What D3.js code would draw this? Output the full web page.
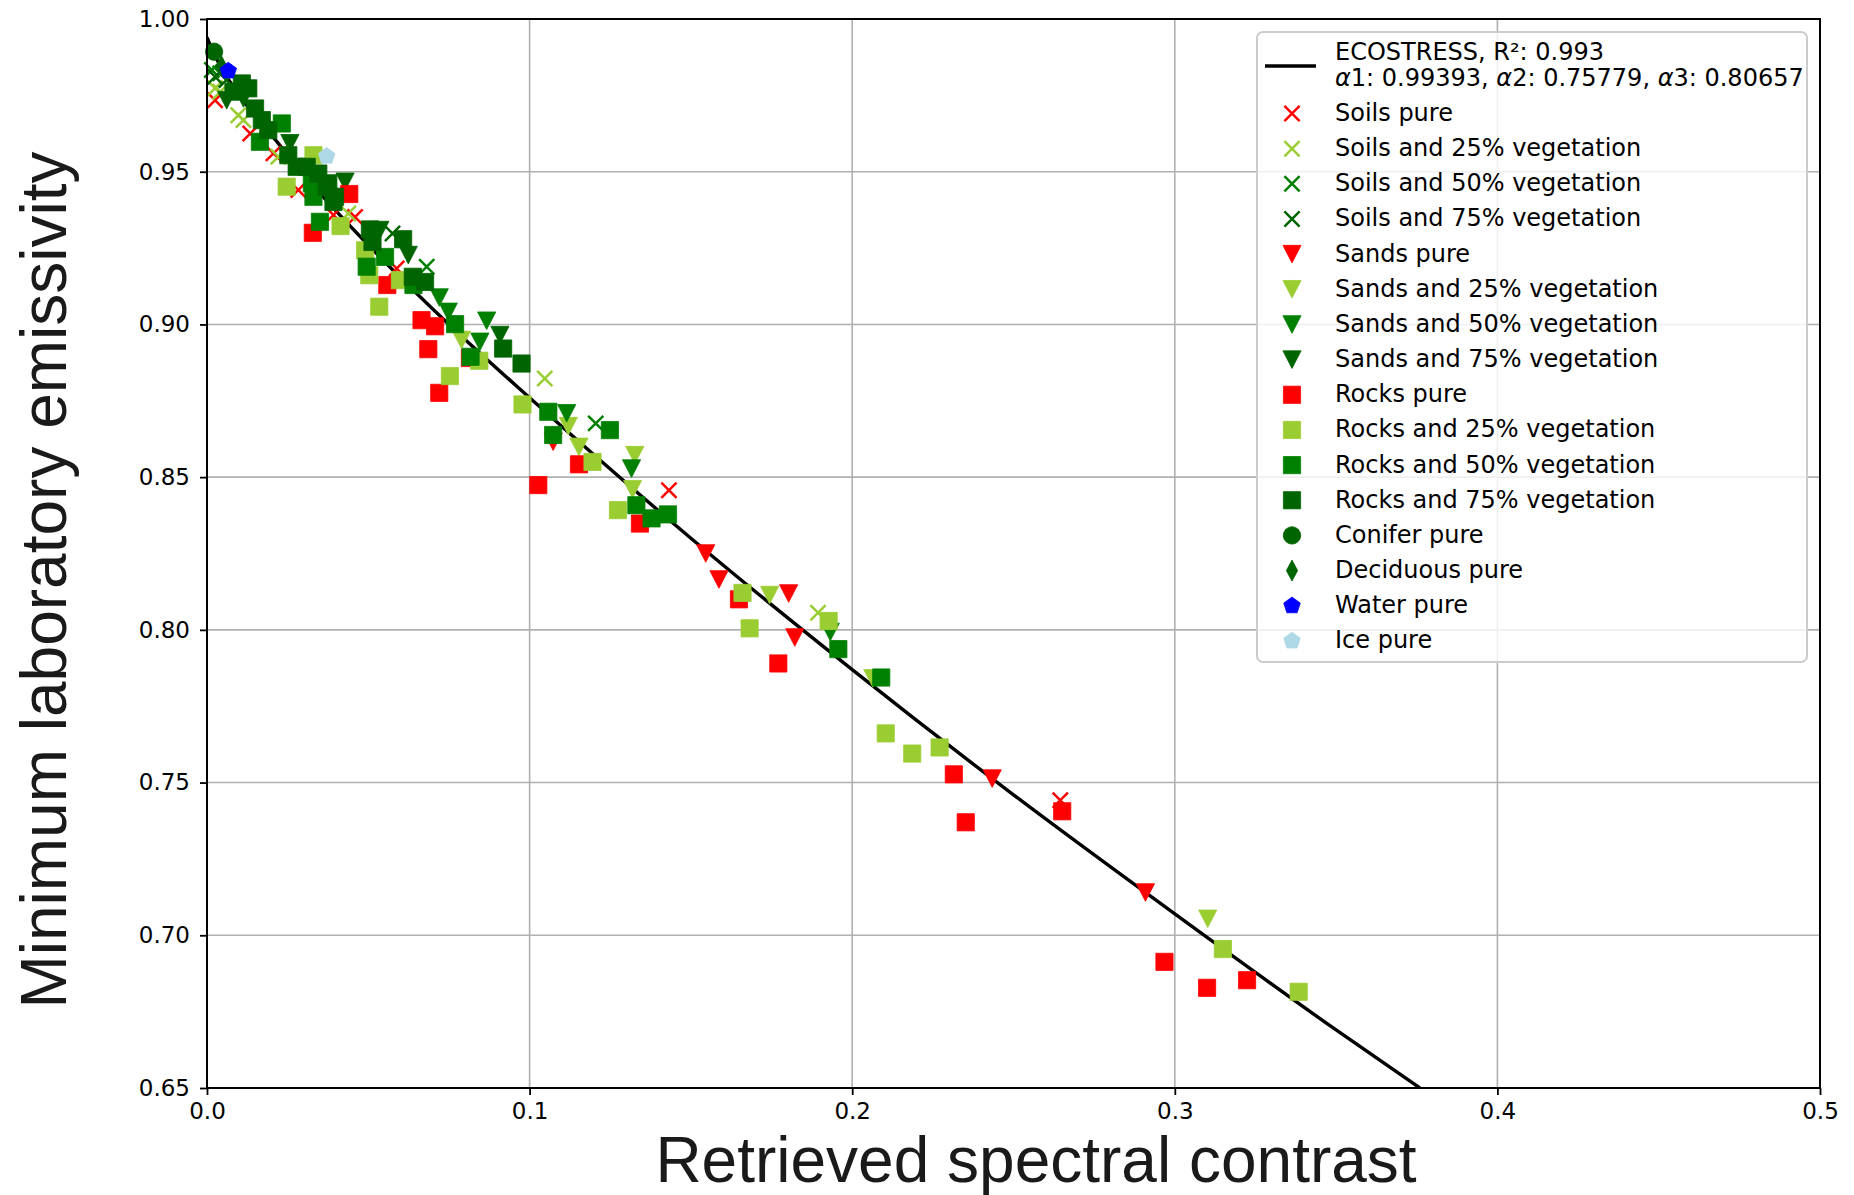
<!DOCTYPE html>
<html><head><meta charset="utf-8">
<script src="https://cdn.jsdelivr.net/npm/d3@7"></script>
<style>body{margin:0;background:#fff}</style>
</head><body>
<svg id="chart" width="1854" height="1195" xmlns="http://www.w3.org/2000/svg"></svg>
<script>
// ---------- DATA ----------
const xTicks = [0.0, 0.1, 0.2, 0.3, 0.4, 0.5];
const yTicks = [0.65, 0.70, 0.75, 0.80, 0.85, 0.90, 0.95, 1.00];
const xLabel = "Retrieved spectral contrast";
const yLabel = "Minimum laboratory emissivity";
const fitLabelLine1 = "ECOSTRESS, R²: 0.993";
const fitLabelParams = [["α", "1: 0.99393, "], ["α", "2: 0.75779, "], ["α", "3: 0.80657"]];

const seriesNames = ["Soils pure","Soils and 25% vegetation","Soils and 50% vegetation","Soils and 75% vegetation",
  "Sands pure","Sands and 25% vegetation","Sands and 50% vegetation","Sands and 75% vegetation",
  "Rocks pure","Rocks and 25% vegetation","Rocks and 50% vegetation","Rocks and 75% vegetation",
  "Conifer pure","Deciduous pure","Water pure","Ice pure"];
const seriesColors = ["#ff0000","#9acd32","#008000","#006400","#ff0000","#9acd32","#008000","#006400",
  "#ff0000","#9acd32","#008000","#006400","#006400","#006400","#0000ff","#add8e6"];
const seriesShapes = ["x","x","x","x","v","v","v","v","s","s","s","s","o","d","p","p"];

// fitted ECOSTRESS curve
const fitX = [0, 0.002, 0.005, 0.01, 0.02, 0.035, 0.05, 0.075, 0.1, 0.15, 0.2, 0.25, 0.3, 0.35, 0.376];
const fitY = [0.994, 0.989, 0.983, 0.975, 0.962, 0.943, 0.926, 0.900, 0.876, 0.830, 0.787, 0.746, 0.707, 0.669, 0.650];

const soilsPure = [[0.0025,0.9734],[0.0134,0.9625],[0.0206,0.9560],[0.0283,0.9440],[0.0392,0.9358],[0.0459,0.9352],[0.0588,0.9183],[0.1432,0.8457],[0.2645,0.7442]];
const soils25 = [[0.0025,0.9773],[0.0041,0.9762],[0.0097,0.9685],[0.0113,0.9669],[0.0221,0.9549],[0.0438,0.9363],[0.1047,0.8823],[0.1894,0.8056]];
const soils50 = [[0.0015,0.9833],[0.0041,0.9822],[0.0681,0.9189],[0.1205,0.8676]];
const soils75 = [[0.0025,0.9811],[0.0060,0.9800],[0.0575,0.9298]];
const sandsPure = [[0.1073,0.8616],[0.1546,0.8250],[0.1587,0.8165],[0.1803,0.8119],[0.1822,0.7975],[0.2434,0.7513],[0.2909,0.7140]];
const sands25 = [[0.0789,0.8949],[0.1120,0.8667],[0.1153,0.8599],[0.1326,0.8572],[0.1319,0.8460],[0.1744,0.8114],[0.2064,0.7841],[0.3102,0.7054]];
const sands50 = [[0.0720,0.9088],[0.0748,0.9041],[0.0867,0.9012],[0.0846,0.8943],[0.1115,0.8709],[0.1316,0.8528],[0.1932,0.7993]];
const sands75 = [[0.0061,0.9734],[0.0113,0.9740],[0.0257,0.9593],[0.0428,0.9467],[0.0536,0.9309],[0.0624,0.9227],[0.0908,0.8965]];
const rocksPure = [[0.0328,0.9300],[0.0441,0.9427],[0.0559,0.9129],[0.0665,0.9014],[0.0707,0.8994],[0.0686,0.8919],[0.0720,0.8776],[0.0815,0.8890],[0.1027,0.8474],[0.1153,0.8542],[0.1342,0.8348],[0.1649,0.8100],[0.1771,0.7890],[0.2315,0.7527],[0.2352,0.7370],[0.2651,0.7406],[0.2968,0.6913],[0.3100,0.6828],[0.3224,0.6853]];
const rocks25 = [[0.0247,0.9451],[0.0330,0.9554],[0.0414,0.9322],[0.0490,0.9243],[0.0503,0.9161],[0.0534,0.9058],[0.0598,0.9145],[0.0753,0.8831],[0.0844,0.8881],[0.0978,0.8738],[0.1195,0.8550],[0.1274,0.8392],[0.1660,0.8121],[0.1682,0.8005],[0.1927,0.8029],[0.2104,0.7661],[0.2186,0.7595],[0.2271,0.7615],[0.3149,0.6955],[0.3384,0.6815]];
const rocks50 = [[0.0232,0.9658],[0.0164,0.9598],[0.0325,0.9462],[0.0330,0.9418],[0.0350,0.9336],[0.0495,0.9189],[0.0552,0.9221],[0.0640,0.9129],[0.0769,0.9001],[0.0817,0.8894],[0.1058,0.8714],[0.1073,0.8638],[0.1249,0.8654],[0.1331,0.8408],[0.1378,0.8365],[0.1429,0.8378],[0.1957,0.7937],[0.2090,0.7844]];
const rocks75 = [[0.0082,0.9762],[0.0108,0.9789],[0.0128,0.9773],[0.0149,0.9707],[0.0170,0.9669],[0.0190,0.9636],[0.0252,0.9554],[0.0278,0.9516],[0.0309,0.9516],[0.0345,0.9494],[0.0376,0.9462],[0.0397,0.9418],[0.0371,0.9451],[0.0392,0.9401],[0.0505,0.9311],[0.0513,0.9270],[0.0608,0.9279],[0.0638,0.9156],[0.0676,0.9139],[0.0918,0.8921],[0.0975,0.8872]];
const coniferPure = [[0.0022,0.9893]];
const deciduousPure = [[0.0045,0.9845]];
const waterPure = [[0.0066,0.9830]];
const icePure = [[0.0371,0.9551]];
const seriesData = [soilsPure,soils25,soils50,soils75,sandsPure,sands25,sands50,sands75,rocksPure,rocks25,rocks50,rocks75,coniferPure,deciduousPure,waterPure,icePure];

// ---------- LAYOUT ----------
const L = 207, R = 1820, T = 19, B = 1088;
const svg = d3.select("#chart");
const x = d3.scaleLinear().domain([0, 0.5]).range([L, R]);
const y = d3.scaleLinear().domain([0.65, 1.0]).range([B, T]);
const tickFont = "'DejaVu Sans', sans-serif";

svg.append("rect").attr("width",1854).attr("height",1195).attr("fill","#fff");

// grid
const grid = svg.append("g");
grid.selectAll("line.gx").data(xTicks).join("line")
  .attr("x1", d=>x(d)).attr("x2", d=>x(d)).attr("y1", T).attr("y2", B)
  .attr("stroke","#b0b0b0").attr("stroke-width",1.6);
grid.selectAll("line.gy").data(yTicks).join("line")
  .attr("y1", d=>y(d)).attr("y2", d=>y(d)).attr("x1", L).attr("x2", R)
  .attr("stroke","#b0b0b0").attr("stroke-width",1.6);

// fit line
svg.append("clipPath").attr("id","clip").append("rect").attr("x",L).attr("y",T).attr("width",R-L).attr("height",B-T);
const fitPts = fitX.map((v,i)=>[v, fitY[i]]);
svg.append("path").datum(fitPts)
  .attr("clip-path","url(#clip)")
  .attr("d", d3.line().x(d=>x(d[0])).y(d=>y(d[1])).curve(d3.curveMonotoneX))
  .attr("fill","none").attr("stroke","#000").attr("stroke-width",3.4);

// marker shapes
function markerPath(shape) {
  if (shape === "s") { const h = 8.6; return `M${-h},${-h}H${h}V${h}H${-h}Z`; }
  if (shape === "v") { const w = 9.1, h = 8.8; return `M${-w},${-h}L${w},${-h}L0,${h}Z`; }
  if (shape === "o") { const r = 8.7; return `M${r},0A${r},${r} 0 1,1 ${-r},0A${r},${r} 0 1,1 ${r},0Z`; }
  if (shape === "d") { const w = 5.6, h = 10.5; return `M0,${-h}L${w},0L0,${h}L${-w},0Z`; }
  if (shape === "p") {
    const r = 8.7; const pts = d3.range(5).map(k => { const a = -Math.PI/2 + k*2*Math.PI/5; return [r*Math.cos(a), r*Math.sin(a)]; });
    return "M" + pts.map(p=>p.join(",")).join("L") + "Z";
  }
  if (shape === "x") { const h = 7.6; return `M${-h},${-h}L${h},${h}M${-h},${h}L${h},${-h}`; }
}
function drawMarker(g, shape, color) {
  const p = g.append("path").attr("d", markerPath(shape));
  if (shape === "x") p.attr("fill","none").attr("stroke",color).attr("stroke-width",2.5);
  else p.attr("fill",color).attr("stroke",color).attr("stroke-width",0.8);
}

// scatter
const pts = svg.append("g");
seriesData.forEach((arr, si) => {
  const g = pts.append("g");
  g.selectAll("g").data(arr).join("g")
    .attr("transform", d => `translate(${x(d[0])},${y(d[1])})`)
    .each(function(){ drawMarker(d3.select(this), seriesShapes[si], seriesColors[si]); });
});

// axes
const xAxis = svg.append("g").attr("transform",`translate(0,${B})`)
  .call(d3.axisBottom(x).tickValues(xTicks).tickFormat(d3.format(".1f")).tickSize(7).tickPadding(8));
const yAxis = svg.append("g").attr("transform",`translate(${L},0)`)
  .call(d3.axisLeft(y).tickValues(yTicks).tickFormat(d3.format(".2f")).tickSize(7).tickPadding(10));
[xAxis, yAxis].forEach(a => {
  a.select(".domain").remove();
  a.selectAll(".tick line").attr("stroke","#000").attr("stroke-width",1.8);
  a.selectAll(".tick text").attr("font-family",tickFont).attr("font-size",23).attr("fill","#000");
});
// spines
svg.append("rect").attr("x",L).attr("y",T).attr("width",R-L).attr("height",B-T)
  .attr("fill","none").attr("stroke","#000").attr("stroke-width",2);

// axis labels
svg.append("text").attr("x",1036).attr("y",1182).attr("text-anchor","middle")
  .attr("font-family","'Liberation Sans', Arial, sans-serif").attr("font-size",64).attr("fill","#1a1a1a").text(xLabel);
svg.append("text").attr("transform","translate(66,580) rotate(-90)").attr("text-anchor","middle")
  .attr("font-family","'Liberation Sans', Arial, sans-serif").attr("font-size",64).attr("fill","#1a1a1a").text(yLabel);

// legend
const leg = svg.append("g");
leg.append("rect").attr("x",1257).attr("y",32).attr("width",550).attr("height",630).attr("rx",6)
  .attr("fill","#fff").attr("fill-opacity",0.8).attr("stroke","#cccccc").attr("stroke-width",2);
leg.append("line").attr("x1",1265).attr("x2",1316).attr("y1",66).attr("y2",66).attr("stroke","#000").attr("stroke-width",3.4);
const legFont = "'DejaVu Sans', sans-serif";
leg.append("text").attr("x",1335).attr("y",60).attr("font-family",legFont).attr("font-size",24).attr("fill","#000").text(fitLabelLine1);
const t2 = leg.append("text").attr("x",1335).attr("y",86).attr("font-family",legFont).attr("font-size",24).attr("fill","#000");
fitLabelParams.forEach(([g, rest]) => {
  t2.append("tspan").attr("font-style","italic").text(g);
  t2.append("tspan").text(rest);
});
seriesNames.forEach((name, i) => {
  const base = 121 + i*35.16;
  const mg = leg.append("g").attr("transform",`translate(1292,${base-7.5})`);
  drawMarker(mg, seriesShapes[i], seriesColors[i]);
  leg.append("text").attr("x",1335).attr("y",base).attr("font-family",legFont).attr("font-size",24).attr("fill","#000").text(name);
});
</script>
</body></html>
